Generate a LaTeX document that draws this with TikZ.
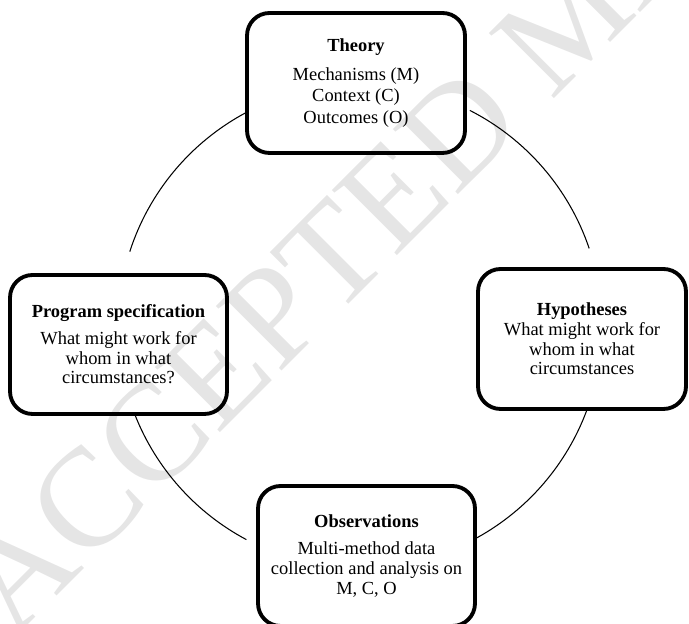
\documentclass[tikz,border=0pt]{standalone}
\usepackage{fontspec}
\setmainfont{Liberation Serif}
\begin{document}
\begin{tikzpicture}[x=0.02cm,y=0.02cm,
  box/.style={draw=black, line width=2.2pt, rounded corners=0.45cm,
    align=center, inner sep=0pt, font=\fontsize{10.5}{11.2}\selectfont},
  arcline/.style={draw=black, line width=0.6pt},
  wmark/.style={text=black!10, font=\fontsize{80}{80}\selectfont, inner sep=0pt}]
\useasboundingbox (0,0) rectangle (689,624);
\clip (0,0) rectangle (689,624);
% watermark
\node[wmark, anchor=base west, rotate=45] (wm) at (13,-16) {ACCEPTED MANUSCRIPT};
% circle centre
\coordinate (c) at (360,298);
% boxes
\node[box, minimum width=4.36cm, minimum height=2.80cm,
  font=\fontsize{10.5}{12.2}\selectfont] (theory) at (356,541)
  {\textbf{Theory}\\[4pt] Mechanisms (M)\\ Context (C)\\ Outcomes (O)};
\node[box, minimum width=4.34cm, minimum height=2.78cm] (prog) at (118.5,279.5)
  {\textbf{Program specification}\\[4pt] What might work for\\ whom in what\\ circumstances?};
\node[box, minimum width=4.16cm, minimum height=2.80cm] (hyp) at (582,285)
  {\textbf{Hypotheses}\\ What might work for\\ whom in what\\ circumstances};
\node[box, minimum width=4.34cm, minimum height=2.80cm] (obs) at (366.5,68)
  {\textbf{Observations}\\[4pt] Multi-method data\\ collection and analysis on\\ M, C, O};
% arcs
\draw[arcline] (c) ++(118.3:4.84cm) arc[start angle=118.3, end angle=162.1, radius=4.84cm];
\draw[arcline] (c) ++(63.0:4.84cm) arc[start angle=63.0, end angle=18.7, radius=4.84cm];
\draw[arcline] (c) ++(-20.3:4.84cm) arc[start angle=-20.3, end angle=-61.1, radius=4.84cm];
\draw[arcline] (c) ++(-118.0:4.84cm) arc[start angle=-118.0, end angle=-158.4, radius=4.84cm];
\end{tikzpicture}
\end{document}
